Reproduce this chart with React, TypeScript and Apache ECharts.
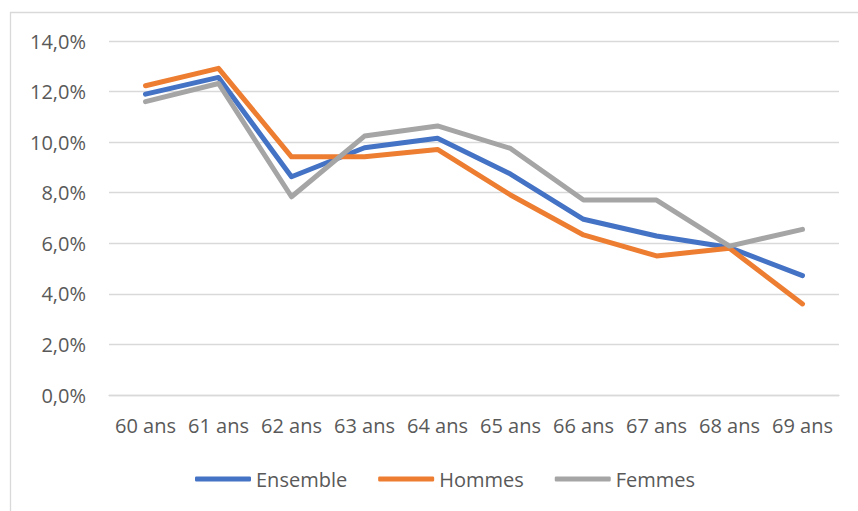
import React, { useEffect, useRef } from "react";
import * as echarts from "echarts";

const categories = ["60 ans", "61 ans", "62 ans", "63 ans", "64 ans", "65 ans", "66 ans", "67 ans", "68 ans", "69 ans"];
const ensemble = [11.9, 12.56, 8.63, 9.78, 10.15, 8.74, 6.95, 6.29, 5.83, 4.72];
const hommes = [12.23, 12.92, 9.42, 9.42, 9.71, 7.91, 6.33, 5.5, 5.8, 3.6];
const femmes = [11.6, 12.32, 7.84, 10.24, 10.64, 9.75, 7.71, 7.71, 5.89, 6.55];
const seriesNames = ["Ensemble", "Hommes", "Femmes"];
const colors = ["#4472C4", "#ED7D31", "#A5A5A5"];

const FONT = "'Open Sans', sans-serif";

export default function App() {
  const ref = useRef<HTMLDivElement>(null);
  useEffect(() => {
    if (!ref.current) return;
    const chart = echarts.init(ref.current, undefined, { renderer: "svg" });
    const data = [ensemble, hommes, femmes];
    chart.setOption({
      animation: false,
      backgroundColor: "#ffffff",
      textStyle: { fontFamily: FONT },
      graphic: [
        {
          type: "rect",
          shape: { x: 10.5, y: 12.5, width: 900, height: 600 },
          style: { fill: "none", stroke: "#D9D9D9", lineWidth: 1.3 },
          silent: true,
        },
      ],
      grid: { left: 109, right: 19, top: 41, bottom: 116, containLabel: false },
      legend: {
        data: seriesNames,
        bottom: 17,
        left: 190,
        itemWidth: 56,
        itemHeight: 5,
        itemGap: 31,
        icon: "roundRect",
        textStyle: { fontFamily: FONT, fontSize: 20, color: "#595959" },
      },
      xAxis: {
        type: "category",
        data: categories,
        boundaryGap: true,
        axisLine: { show: true, lineStyle: { color: "#D9D9D9", width: 1.3 } },
        axisTick: { show: false },
        axisLabel: { fontFamily: FONT, fontSize: 20, color: "#595959", margin: 20, interval: 0 },
      },
      yAxis: {
        type: "value",
        min: 0,
        max: 14,
        interval: 2,
        axisLine: { show: false },
        axisTick: { show: false },
        splitLine: { lineStyle: { color: "#D9D9D9", width: 1.3 } },
        axisLabel: {
          fontFamily: FONT,
          fontSize: 20,
          color: "#595959",
          margin: 23,
          formatter: (v: number) => v.toFixed(1).replace(".", ",") + "%",
        },
      },
      series: seriesNames.map((name, i) => ({
        name,
        type: "line",
        data: data[i],
        showSymbol: false,
        symbol: "none",
        color: colors[i],
        lineStyle: { width: 5, color: colors[i], cap: "round", join: "round" },
        itemStyle: { color: colors[i] },
      })),
    });
    return () => chart.dispose();
  }, []);
  return <div ref={ref} style={{ position: "fixed", left: 0, top: 0, width: 858, height: 511 }} />;
}
